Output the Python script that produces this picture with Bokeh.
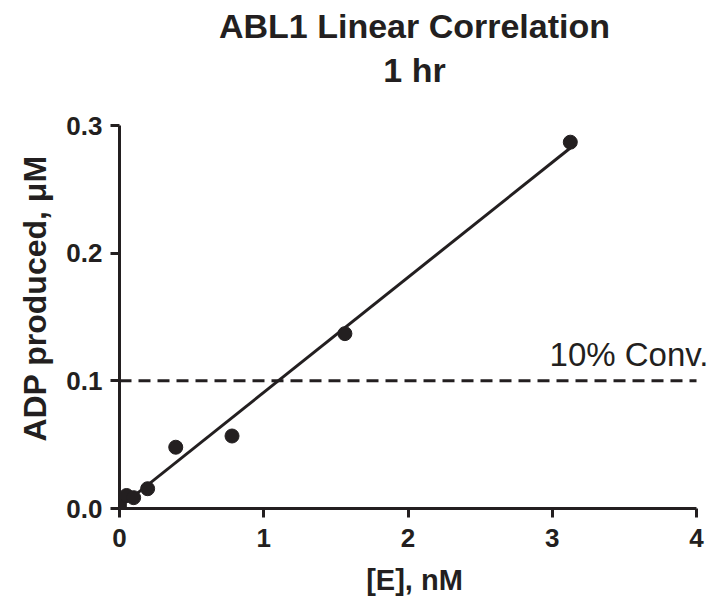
import numpy as np
from bokeh.plotting import figure
from bokeh.models import Range1d, FixedTicker, Label, Title
from bokeh.embed import file_html
from bokeh.resources import INLINE

# ---- data ----
conc_nM = [0.0, 0.049, 0.098, 0.195, 0.39, 0.78, 1.5625, 3.125]
adp_uM = [0.0024, 0.0102, 0.0085, 0.0155, 0.048, 0.0568, 0.137, 0.287]
x_ticks = [0, 1, 2, 3, 4]
y_ticks = [0.0, 0.1, 0.2, 0.3]
y_tick_labels = ["0.0", "0.1", "0.2", "0.3"]
conv_level = 0.1
conv_label = "10% Conv."
title_main = "ABL1 Linear Correlation"
title_sub = "1 hr"
x_label = "[E], nM"
y_label = "ADP produced, \u03bcM"

INK = "#231f20"
FONT = "Liberation Sans"

# linear regression through the data
slope, intercept = np.polyfit(conc_nM, adp_uM, 1)
fit_x = [min(conc_nM), max(conc_nM)]
fit_y = [intercept + slope * v for v in fit_x]

x_lo, x_hi = x_ticks[0], x_ticks[-1]
y_lo, y_hi = y_ticks[0], y_ticks[-1]

# layout (pixels): axis area 382 px tall, free space above the y axis
AXIS_PX, GAP_PX = 382, 37
y_top = y_hi * (1 + GAP_PX / AXIS_PX)

p = figure(width=712, height=599, output_backend="svg", toolbar_location=None,
           x_range=Range1d(x_lo, x_hi + 0.09), y_range=Range1d(y_lo, y_top),
           min_border_left=119, min_border_right=3, min_border_top=80,
           min_border_bottom=91)
p.outline_line_color = None
p.grid.visible = False

for ax in (p.xaxis[0], p.yaxis[0]):
    ax.axis_line_width = 3
    ax.axis_line_color = INK
    ax.major_tick_line_width = 3
    ax.major_tick_line_color = INK
    ax.major_tick_out = 9
    ax.major_tick_in = 0
    ax.minor_tick_line_color = None
    ax.major_label_text_font = FONT
    ax.major_label_text_font_style = "bold"
    ax.major_label_text_font_size = "26px"
    ax.major_label_text_color = INK
    ax.axis_label_text_font = FONT
    ax.axis_label_text_font_style = "bold"
    ax.axis_label_text_color = INK

p.xaxis.bounds = (x_lo, x_hi)
p.xaxis.ticker = FixedTicker(ticks=x_ticks)
p.xaxis.major_label_standoff = 11
p.xaxis.axis_label = x_label
p.xaxis.axis_label_text_font_size = "29px"
p.xaxis.axis_label_standoff = 14

p.yaxis.bounds = (y_lo, y_hi)
p.yaxis.ticker = FixedTicker(ticks=y_ticks)
p.yaxis.major_label_overrides = {t: s for t, s in zip(y_ticks, y_tick_labels)}
p.yaxis.major_label_standoff = 8
p.yaxis.axis_label = y_label
p.yaxis.axis_label_text_font_size = "32px"
p.yaxis.axis_label_standoff = 10

# 10% conversion reference line
p.line(x=[x_lo, x_hi], y=[conv_level, conv_level], line_color=INK,
       line_width=3, line_dash="12 7")
p.add_layout(Label(x=x_hi, y=conv_level, text=conv_label, x_offset=12, y_offset=26,
                   text_align="right", text_baseline="alphabetic",
                   text_font=FONT, text_font_size="33px", text_color=INK))

# fit line and data points
p.line(x=fit_x, y=fit_y, line_color=INK, line_width=3)
p.scatter(x=conc_nM, y=adp_uM, size=14, fill_color=INK, line_color=INK)

# two-line title (first added sits closest to the plot)
p.add_layout(Title(text=title_sub, align="center", standoff=0, text_font=FONT,
                   text_font_style="bold", text_font_size="34px", text_color=INK),
             "above")
p.add_layout(Title(text=title_main, align="center", standoff=8, text_font=FONT,
                   text_font_style="bold", text_font_size="34px", text_color=INK),
             "above")

open("out.html", "w").write(file_html(p, INLINE))
